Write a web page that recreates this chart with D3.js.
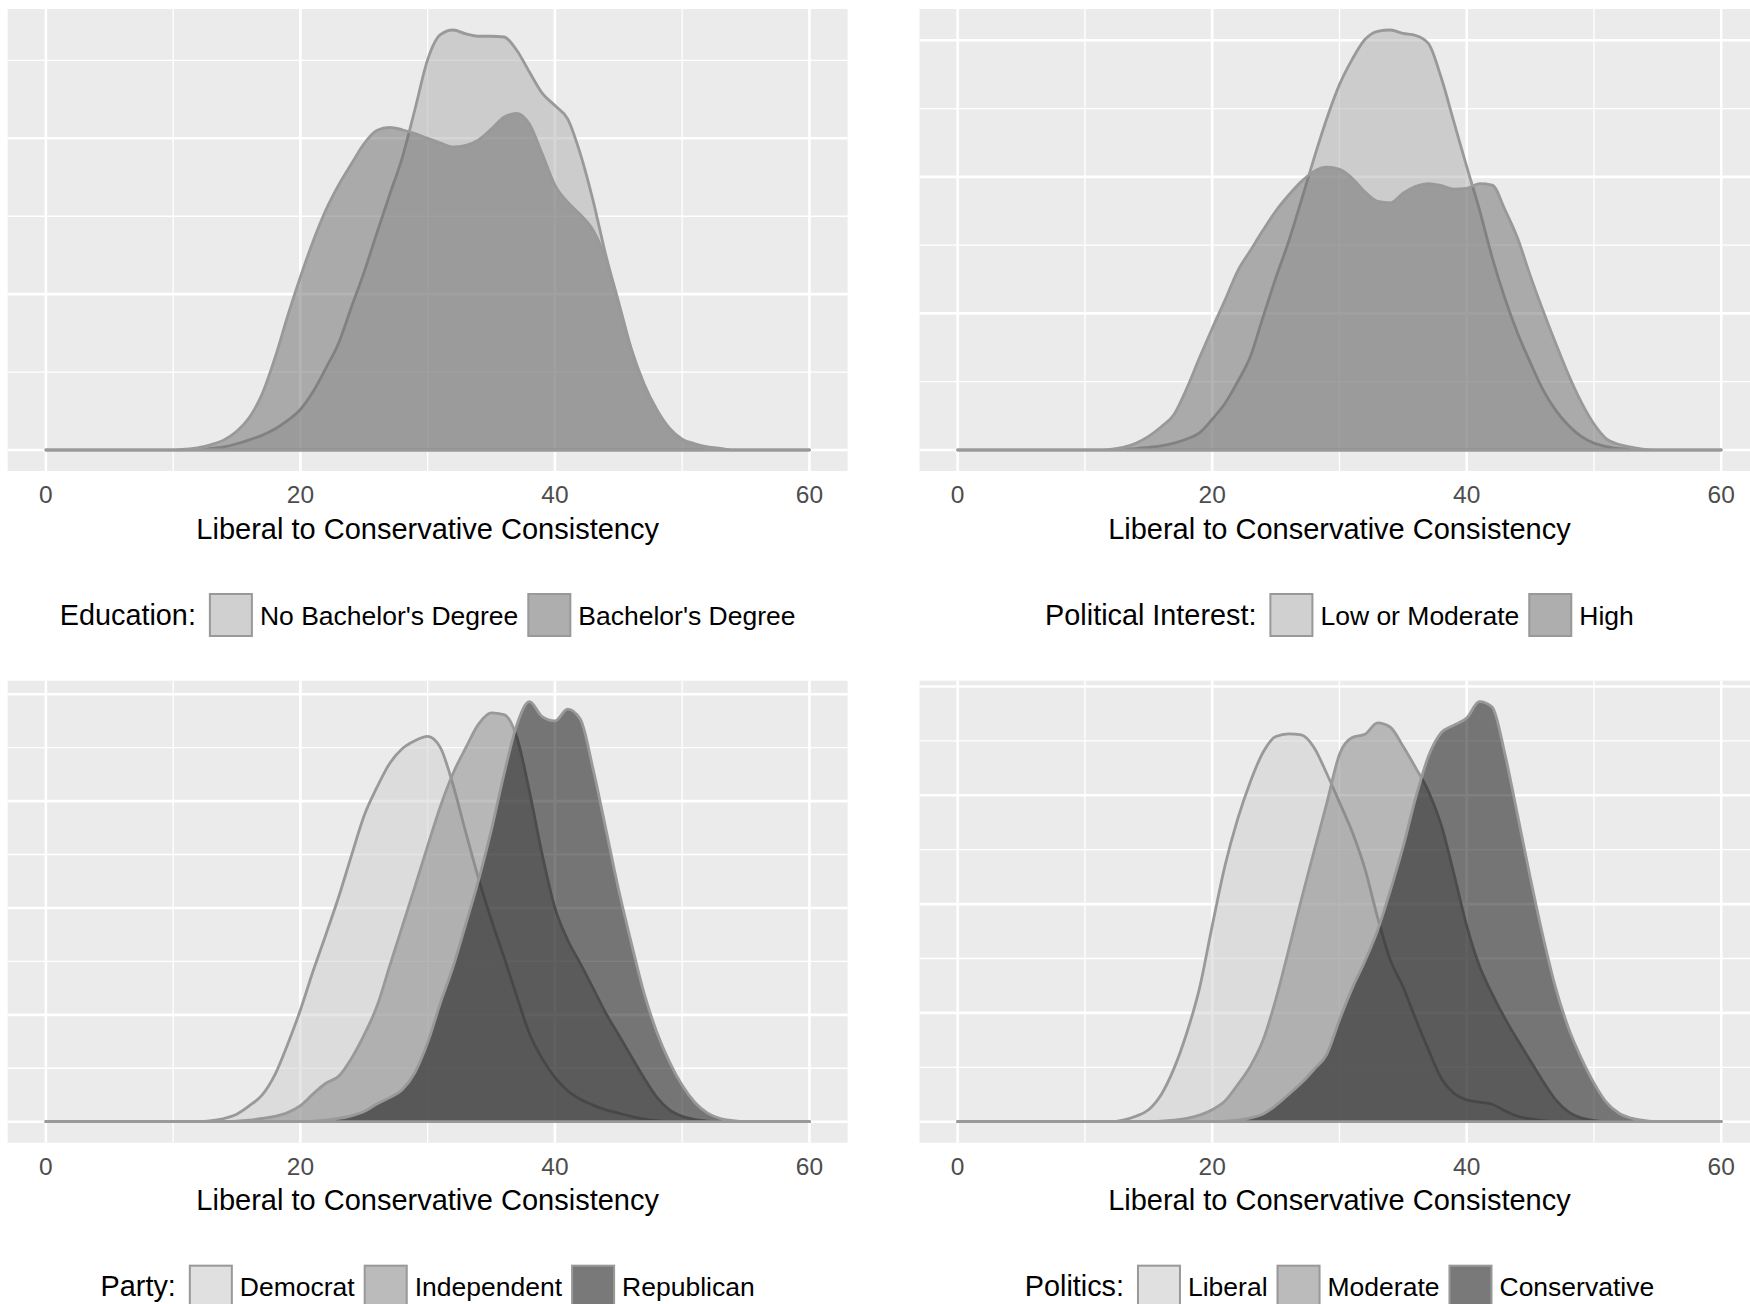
<!DOCTYPE html>
<html>
<head>
<meta charset="utf-8">
<script src="https://cdn.jsdelivr.net/npm/d3@7"></script>
<style>
  html, body { margin: 0; padding: 0; background: #ffffff; }
  svg { display: block; font-family: "Liberation Sans", Arial, Helvetica, sans-serif; }
</style>
</head>
<body>
<svg id="chart" width="1750" height="1304"></svg>
<script>
// Evaluation grid of the consistency scale (0 = most liberal, 60 = most conservative)
const consistency = [0,1,2,3,4,5,6,7,8,9,10,11,12,13,14,15,16,17,18,19,20,21,22,23,24,25,26,27,28,29,30,
  31,32,33,34,35,36,37,38,39,40,41,42,43,44,45,46,47,48,49,50,51,52,53,54,55,56,57,58,59,60];

const xTicks = [0, 20, 40, 60];
const axisTitle = "Liberal to Conservative Consistency";

// Education
const educationTitle = "Education:";
const educationGroups = ["No Bachelor's Degree", "Bachelor's Degree"];
const educationNoBA = [0,0,0,0,0,0,0,0,0,0,0,0,0,
  .0002,.0004,.0008,.0013,.0019,.0027,.0038,.0052,.0075,.0105,.0137,.0183,.0228,.0278,.0327,.0375,.0437,
  .0501,.0533,.0539,.0534,.0531,.0531,.0530,.0513,.0485,.0458,.0442,.0425,.0380,.0320,.0250,.0190,.0130,
  .0085,.0052,.0028,.0014,.0008,.0004,.0002,
  0,0,0,0,0,0,0];
const educationBA = [0,0,0,0,0,0,0,0,0,0,0,
  .0001,.0003,.0007,.0013,.0024,.0042,.0072,.0118,.0172,.0222,.0268,.0308,.0340,.0367,.0393,.0410,.0414,
  .0411,.0406,.0400,.0394,.0389,.0391,.0398,.0412,.0427,.0432,.0418,.0380,.0340,.0318,.0302,.0282,.0245,
  .0188,.0128,.0083,.0050,.0027,.0013,.0007,.0003,.0001,
  0,0,0,0,0,0,0];

// Political interest
const interestTitle = "Political Interest:";
const interestGroups = ["Low or Moderate", "High"];
const interestLow = [0,0,0,0,0,0,0,0,0,0,0,0,0,
  .0001,.0002,.0004,.0006,.0010,.0016,.0025,.0045,.0068,.0100,.0137,.0195,.0252,.0305,.0365,.0427,.0485,
  .0535,.0572,.0601,.0613,.0615,.0610,.0607,.0595,.0545,.0480,.0415,.0352,.0282,.0222,.0171,.0128,.0088,
  .0058,.0036,.0020,.0010,.0005,.0002,.0001,
  0,0,0,0,0,0,0];
const interestHigh = [0,0,0,0,0,0,0,0,0,0,0,0,
  .0001,.0004,.0010,.0020,.0034,.0052,.0090,.0135,.0178,.0219,.0262,.0292,.0322,.0350,.0373,.0393,.0408,
  .0414,.0411,.0398,.0378,.0364,.0362,.0376,.0386,.0390,.0387,.0382,.0383,.0390,.0388,.0352,.0310,.0255,
  .0204,.0156,.0110,.0070,.0038,.0016,.0008,.0004,.0001,
  0,0,0,0,0,0];

// Party
const partyTitle = "Party:";
const partyGroups = ["Democrat", "Independent", "Republican"];
const partyDemocrat = [0,0,0,0,0,0,0,0,0,0,0,0,0,
  .0002,.0006,.0014,.0030,.0050,.0088,.0145,.0209,.0282,.0350,.0420,.0497,.0572,.0625,.0670,.0698,.0713,
  .0721,.0700,.0630,.0541,.0455,.0378,.0308,.0235,.0165,.0118,.0083,.0058,.0042,.0031,.0022,.0016,.0010,
  .0005,.0002,
  0,0,0,0,0,0,0,0,0,0,0,0];
const partyIndependent = [0,0,0,0,0,0,0,0,0,0,0,0,0,0,0,
  .0001,.0003,.0006,.0010,.0017,.0030,.0052,.0072,.0085,.0118,.0162,.0215,.0290,.0365,.0440,.0516,.0590,
  .0652,.0700,.0744,.0765,.0762,.0720,.0618,.0500,.0400,.0340,.0296,.0250,.0203,.0163,.0122,.0082,.0046,
  .0022,.0010,.0004,.0001,
  0,0,0,0,0,0,0,0];
const partyRepublican = [0,0,0,0,0,0,0,0,0,0,0,0,0,0,0,0,0,0,0,0,0,
  .0001,.0003,.0006,.0011,.0019,.0033,.0045,.0060,.0092,.0148,.0222,.0290,.0370,.0452,.0545,.0650,.0742,
  .0786,.0758,.0750,.0772,.0753,.0660,.0548,.0435,.0335,.0241,.0168,.0112,.0068,.0036,.0016,.0006,.0002,
  0,0,0,0,0,0];

// Self-described politics
const politicsTitle = "Politics:";
const politicsGroups = ["Liberal", "Moderate", "Conservative"];
const politicsLiberal = [0,0,0,0,0,0,0,0,0,0,0,0,0,
  .0003,.0010,.0022,.0050,.0098,.0163,.0245,.0360,.0470,.0556,.0625,.0679,.0708,.0713,.0711,.0688,.0640,
  .0587,.0533,.0465,.0375,.0297,.0248,.0188,.0132,.0080,.0052,.0040,.0036,.0032,.0020,.0010,.0005,.0002,
  0,0,0,0,0,0,0,0,0,0,0,0,0,0];
const politicsModerate = [0,0,0,0,0,0,0,0,0,0,0,0,0,0,0,0,
  .0001,.0003,.0006,.0012,.0022,.0038,.0068,.0102,.0150,.0225,.0315,.0408,.0497,.0585,.0675,.0706,.0712,
  .0733,.0725,.0690,.0650,.0607,.0545,.0455,.0360,.0286,.0235,.0190,.0150,.0112,.0074,.0040,.0018,.0007,
  .0002,
  0,0,0,0,0,0,0,0,0,0];
const politicsConservative = [0,0,0,0,0,0,0,0,0,0,0,0,0,0,0,0,0,0,0,0,0,
  .0001,.0003,.0007,.0014,.0030,.0050,.0071,.0096,.0124,.0187,.0245,.0295,.0352,.0425,.0505,.0596,.0672,
  .0715,.0729,.0742,.0772,.0762,.0676,.0563,.0448,.0340,.0245,.0172,.0117,.0071,.0035,.0015,.0006,.0002,
  0,0,0,0,0,0];

// Fill greys (drawn at half opacity)
const twoGreys = ["#adadad", "#696969"];
const threeGreys = ["#cdcdcd", "#838383", "#000000"];

const panels = [
  { col: 0, row: 0, title: educationTitle, groups: educationGroups, series: [educationNoBA, educationBA], fills: twoGreys },
  { col: 1, row: 0, title: interestTitle, groups: interestGroups, series: [interestLow, interestHigh], fills: twoGreys },
  { col: 0, row: 1, title: partyTitle, groups: partyGroups, series: [partyDemocrat, partyIndependent, partyRepublican], fills: threeGreys },
  { col: 1, row: 1, title: politicsTitle, groups: politicsGroups, series: [politicsLiberal, politicsModerate, politicsConservative], fills: threeGreys }
];

// ---- layout ----
const colLeft = [7.7, 919.5];
const rowTop = [9, 680.7];
const panelW = 839.9, panelH = 462;
const svg = d3.select("#chart");

panels.forEach(p => {
  const left = colLeft[p.col], top = rowTop[p.row];
  const g = svg.append("g");

  const x = d3.scaleLinear().domain([-3, 63]).range([left, left + panelW]);
  const yMax = d3.max(p.series.flat());
  const y = d3.scaleLinear().domain([-0.05 * yMax, 1.05 * yMax]).range([top + panelH, top]);

  // panel background
  g.append("rect").attr("x", left).attr("y", top).attr("width", panelW).attr("height", panelH)
    .attr("fill", "#ebebeb");

  // grid: minor then major
  const xMinor = [10, 30, 50];
  const yAll = d3.range(0, Math.floor(y.domain()[1] * 100 + 1e-9) + 1).map(k => k / 100);
  const yMajor = yAll.filter((v, i) => i % 2 === 0);
  const yMinor = yAll.filter((v, i) => i % 2 === 1);

  g.selectAll(null).data(yMinor).join("line")
    .attr("x1", left).attr("x2", left + panelW).attr("y1", d => y(d)).attr("y2", d => y(d))
    .attr("stroke", "#ffffff").attr("stroke-width", 1.3);
  g.selectAll(null).data(xMinor).join("line")
    .attr("y1", top).attr("y2", top + panelH).attr("x1", d => x(d)).attr("x2", d => x(d))
    .attr("stroke", "#ffffff").attr("stroke-width", 1.3);
  g.selectAll(null).data(yMajor).join("line")
    .attr("x1", left).attr("x2", left + panelW).attr("y1", d => y(d)).attr("y2", d => y(d))
    .attr("stroke", "#ffffff").attr("stroke-width", 2.6);
  g.selectAll(null).data(xTicks).join("line")
    .attr("y1", top).attr("y2", top + panelH).attr("x1", d => x(d)).attr("x2", d => x(d))
    .attr("stroke", "#ffffff").attr("stroke-width", 2.6);

  // densities, drawn in group order (fill + outline each)
  const area = d3.area()
    .x((d, i) => x(consistency[i]))
    .y0(y(0))
    .y1(d => y(d))
    .curve(d3.curveMonotoneX);

  p.series.forEach((s, i) => {
    g.append("path").attr("d", area(s))
      .attr("fill", p.fills[i]).attr("fill-opacity", 0.5)
      .attr("stroke", "#999999").attr("stroke-width", 2.8)
      .attr("stroke-linejoin", "round").attr("stroke-linecap", "round");
  });

  // x axis tick labels
  g.selectAll(null).data(xTicks).join("text")
    .attr("x", d => x(d)).attr("y", top + panelH + 32)
    .attr("text-anchor", "middle").attr("font-size", 24.5).attr("fill", "#4d4d4d")
    .text(d => d);

  // x axis title
  const cx = left + panelW / 2;
  g.append("text").attr("x", cx).attr("y", top + panelH + 67.5)
    .attr("text-anchor", "middle").attr("font-size", 29).attr("fill", "#000000")
    .text(axisTitle);

  // legend, centred under the panel
  const lg = g.append("g");
  const keyTop = top + panelH + 122;
  const keySize = 44;
  let cursor = 0;
  const tt = lg.append("text").attr("x", cursor).attr("y", keyTop + 31.5)
    .attr("font-size", 28.8).attr("fill", "#000000").text(p.title);
  cursor += tt.node().getComputedTextLength() + 13;
  p.groups.forEach((name, i) => {
    lg.append("rect").attr("x", cursor).attr("y", keyTop).attr("width", keySize).attr("height", keySize)
      .attr("fill", "#f2f2f2");
    lg.append("rect").attr("x", cursor + 1).attr("y", keyTop + 1)
      .attr("width", keySize - 2).attr("height", keySize - 2)
      .attr("fill", p.fills[i]).attr("fill-opacity", 0.5)
      .attr("stroke", "#999999").attr("stroke-width", 2);
    cursor += keySize + 7;
    const lt = lg.append("text").attr("x", cursor).attr("y", keyTop + 31.5)
      .attr("font-size", 26.5).attr("fill", "#000000").text(name);
    cursor += lt.node().getComputedTextLength();
    if (i < p.groups.length - 1) cursor += 9;
  });
  lg.attr("transform", `translate(${cx - cursor / 2},0)`);
});
</script>
</body>
</html>
